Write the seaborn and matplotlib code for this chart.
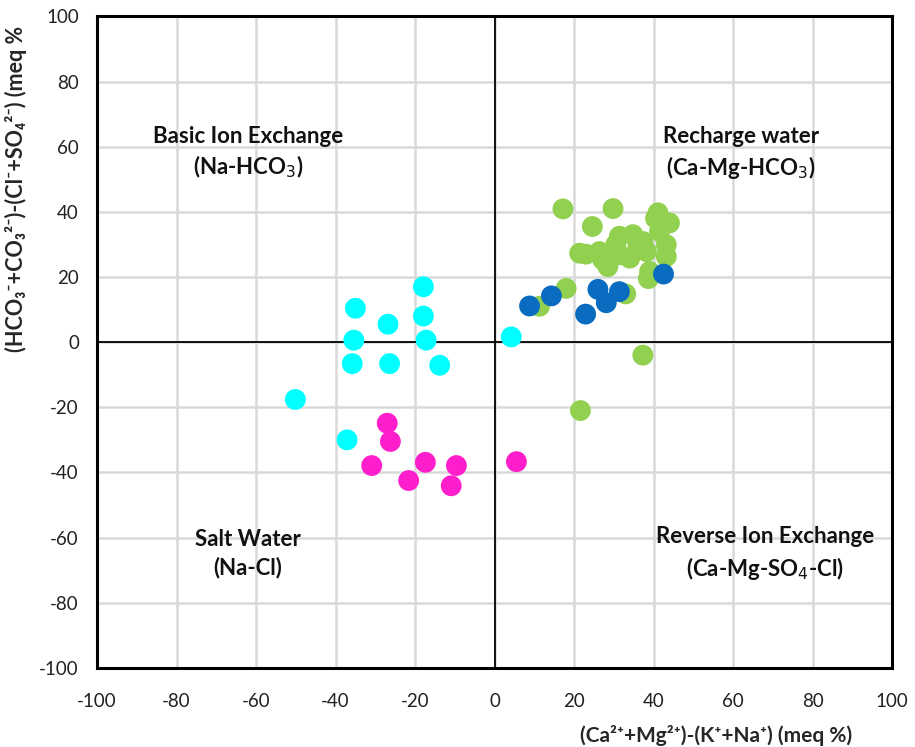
import matplotlib
matplotlib.use("Agg")
import matplotlib.pyplot as plt
import seaborn as sns
import pandas as pd

# Sample groups: (Ca+Mg)-(K+Na) on x, (HCO3+CO3)-(Cl+SO4) on y, meq %
green_x = [17.2, 29.8, 41.1, 44.0, 24.6, 31.4, 34.8, 41.5, 37.3, 43.2, 21.4, 26.4,
           31.4, 28.5, 34.0, 38.2, 43.2, 27.2, 39.0, 38.7, 33.0, 18.0, 11.3, 37.3,
           21.6, 30.5, 36.0, 23.0, 40.5]
green_y = [40.9, 41.0, 39.7, 36.6, 35.5, 32.5, 33.0, 34.0, 30.9, 29.9, 27.3, 27.8,
           26.8, 23.2, 25.8, 27.8, 26.3, 25.3, 21.7, 19.5, 14.8, 16.5, 11.0, -4.0,
           -21.0, 30.0, 29.0, 27.0, 38.0]

blue_x = [8.8, 14.3, 26.0, 31.4, 28.1, 22.9, 42.5]
blue_y = [11.1, 14.2, 16.2, 15.5, 12.1, 8.6, 20.9]

cyan_x = [4.2, -17.9, -35.0, -26.8, -17.9, -35.4, -17.2, -35.8, -26.4, -13.8, -50.1, -37.1]
cyan_y = [1.6, 17.0, 10.4, 5.5, 8.0, 0.6, 0.6, -6.6, -6.6, -7.1, -17.6, -30.0]

magenta_x = [-27.0, -26.2, -30.9, -17.4, -9.6, -21.6, -10.9, 5.5]
magenta_y = [-24.9, -30.5, -37.9, -36.9, -37.9, -42.5, -44.1, -36.7]

ticks = [-100, -80, -60, -40, -20, 0, 20, 40, 60, 80, 100]

groups = [
    ("green", green_x, green_y, "#92D050"),
    ("blue", blue_x, blue_y, "#0A6CC0"),
    ("cyan", cyan_x, cyan_y, "#00FFFF"),
    ("magenta", magenta_x, magenta_y, "#FF1ECB"),
]
df = pd.concat(
    [pd.DataFrame({"x": gx, "y": gy, "group": name}) for name, gx, gy, _ in groups],
    ignore_index=True,
)
palette = {name: col for name, _, _, col in groups}

sns.set_theme(style="white")
plt.rcParams["font.family"] = ["Lato", "DejaVu Sans"]
plt.rcParams["axes.unicode_minus"] = False

fig = plt.figure(figsize=(9.15, 7.47), dpi=100)
ax = fig.add_axes([0.106, 0.106, 0.869, 0.872])

sns.scatterplot(data=df, x="x", y="y", hue="group", palette=palette,
                s=225, linewidth=0, legend=False, ax=ax, zorder=3)

ax.set_xlim(-100, 100)
ax.set_ylim(-100, 100)
ax.set_xticks(ticks)
ax.set_yticks(ticks)
ax.grid(True, color="#D9D9D9", linewidth=1.8)
ax.set_axisbelow(True)
ax.axhline(0, color="black", linewidth=1.3, zorder=2)
ax.axvline(0, color="black", linewidth=1.3, zorder=2)
for sp in ax.spines.values():
    sp.set_color("black")
    sp.set_linewidth(2.2)
ax.tick_params(axis="both", length=0, labelsize=13.5, colors="#222222")
ax.tick_params(axis="x", pad=18)
ax.tick_params(axis="y", pad=13)

ax.set_xlabel("(Ca²⁺+Mg²⁺)-(K⁺+Na⁺) (meq %)",
              fontsize=15, fontweight="bold")
ax.xaxis.set_label_coords(0.778, -0.088)
ax.set_ylabel("(HCO₃⁻+CO₃²⁻)-(Cl⁻+SO₄²⁻) (meq %",
              fontsize=15.5, fontweight="bold")
ax.yaxis.set_label_coords(-0.088, 0.735)

labels = [
    (-62, 58, "Basic Ion Exchange\n(Na-HCO$_3$)"),
    (62, 58, "Recharge water\n(Ca-Mg-HCO$_3$)"),
    (-62, -65, "Salt Water\n(Na-Cl)"),
    (68, -65, "Reverse Ion Exchange\n(Ca-Mg-SO$_4$-Cl)"),
]
for lx, ly, txt in labels:
    ax.text(lx, ly, txt, ha="center", va="center", fontsize=16,
            fontweight="bold", linespacing=1.35, color="#111111")

fig.savefig("out.png", dpi=100)
